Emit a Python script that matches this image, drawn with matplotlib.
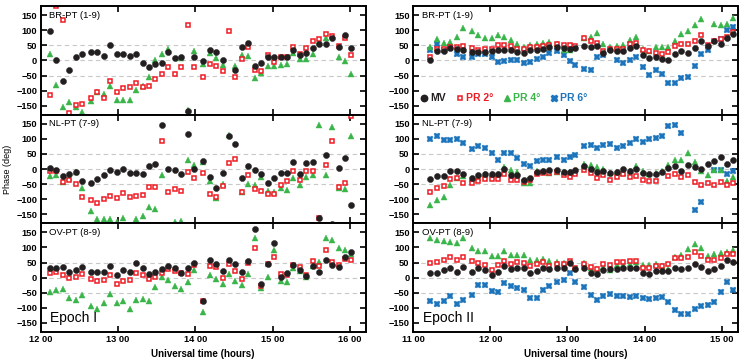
import numpy as np
import matplotlib
matplotlib.use('Agg')
import matplotlib.pyplot as plt
from matplotlib.lines import Line2D

nan = np.nan

# sample times, minutes after 12:00 UT (epoch I) and 11:00 UT (epoch II)
t1_min = [7, 12, 17, 22, 27, 32, 39, 44, 49, 54, 59, 64, 69, 74, 79, 84, 89, 94, 99, 104,
          109, 114, 119, 126, 131, 136, 141, 146, 151, 156, 161, 166, 171, 176, 181, 186,
          191, 196, 201, 206, 211, 216, 221, 226, 231, 236, 241]
t2_min = [13.5, 18.7, 24, 29, 34, 39, 45.5, 50.5, 56, 61, 66, 71, 76, 81, 86, 91, 96, 101,
          106, 111.5, 117, 122, 126, 133, 138, 143, 148, 153, 158.5, 163.5, 168.5, 173.5,
          178.5, 183.5, 188.5, 193.5, 198.5, 203.5, 208.5, 214, 219, 224, 229, 234, 239,
          244, 249]

# ---- epoch I ----
br1_mv = [99, 1, -67, -31, 10, 22, 28, 29, 14, 51, 23, 22, 14, 22, -9, -23, -12, -7, 28, 8,
          11, -167, 11, -3, 35, 28, 3, nan, -30, 46, 57, -18, -7, 13, 13, 10, 10, 35, 17, 26,
          42, 55, 55, 76, 43, 86, 41]
br1_p2 = [-113, 179, 135, -174, -149, -143, -126, -103, -126, -67, -103, -92, -88, -75, -88,
          -84, -60, -46, -23, -44, -21, 118, -21, -56, -13, -18, -35, 99, -56, 4, 43, -33,
          -34, 17, -6, 11, 11, 45, 22, 41, 64, 71, 89, 82, 49, 75, 19]
br1_p4 = [22, -82, -154, -139, -154, -170, -135, -106, -110, -84, -130, -130, -130, -97, -86,
          -55, 0, 21, 37, nan, 7, -163, 30, -11, 26, 8, -15, nan, -19, 19, 15, -58, -42, -19,
          -20, -15, -13, 24, 4, 4, 22, 63, 74, nan, 11, -2, -44]

nl1_mv = [2, -2, -22, -17, -10, -38, -47, -33, -20, -3, -11, 1, -13, -13, -18, 9, 16, 147, 0,
          -2, -16, 115, 1, 28, -26, -62, -13, 110, 82, -30, 9, -3, -17, -46, -28, -12, -12,
          22, -16, 20, 25, -162, 48, -182, 2, 38, -120]
nl1_p2 = [-8, -8, -44, -37, -48, -94, -103, -111, -99, -88, -96, -81, -94, -89, -85, -61, -58,
          93, -76, -67, -74, -11, -29, -12, -82, -94, -55, 20, 33, -76, -21, -66, -72, -83,
          -83, -53, -38, -6, -35, -6, -8, -162, 15, 93, -58, -45, 175]
nl1_p4 = [-22, -21, -42, -28, -9, -62, -138, -166, -166, -166, -174, -162, nan, -166, -155,
          -127, -133, -20, nan, -174, -171, 31, 12, 24, -38, -96, -48, 114, nan, -75, -51,
          -52, -27, -73, -76, -64, -70, -31, -54, -25, -20, 147, -20, 138, -62, -65, 110]

ov1_mv = [33, 33, 35, 18, 25, 35, 20, 20, 20, 37, 8, 26, 18, 48, 33, 13, 19, 30, 40, 31, 17,
          31, 47, -77, 60, 45, 23, 58, 44, 18, 55, 161, -22, 45, 116, 3, 14, 42, 24, 7, 40,
          19, 59, 42, 34, 67, 84]
ov1_p2 = [17, 20, 9, -1, 2, 11, -6, -12, -9, 10, -22, -10, -9, 17, 10, -6, 3, 17, 28, 23, 14,
          13, 42, -77, 38, 35, -1, 44, 23, -5, 48, 99, -27, 45, 68, 11, 8, 42, 35, 9, 54, 38,
          91, 53, 43, 63, 59]
ov1_p4 = [-47, -41, -36, -68, -73, -57, -95, -105, -84, -53, -84, -78, -105, -74, -72, -77,
          -31, 1, -7, -28, -39, -15, 24, -115, 8, -5, -22, 13, -12, -26, 12, 130, -33, 3, 92,
          -10, -16, 32, 22, 2, 40, 53, 132, 125, 97, 91, 80]

# ---- epoch II ----
br2_mv = [1, 32, 30, 40, 37, 36, 28, 28, 28, 30, 33, 35, 34, 29, 26, 35, 36, 37, 46, 46, 41,
          37, 40, 47, 44, 47, 24, 35, 32, 32, 42, 47, 19, 8, 11, 6, 1, 21, 31, 25, 41, 65,
          47, 65, 56, 73, 88]
br2_p2 = [10, 37, 37, 44, 45, 49, 41, 34, 39, 39, 50, 51, 49, 39, 37, 43, 43, 47, 52, 53, 50,
          50, 47, 73, 64, 57, 31, 38, 38, 39, 54, 58, 33, 32, 26, 20, 28, 49, 56, 55, 63, 86,
          50, 65, 71, 78, 95]
br2_p4 = [44, 72, 57, 60, 79, 109, 98, 83, 75, 74, 83, 79, 67, 56, 46, 52, 55, 57, 60, 53, 34,
          33, nan, 73, 79, 90, 53, 46, 49, 52, 68, 78, 39, 32, 43, 43, 43, 65, 89, 96, 116,
          138, nan, 122, 119, 121, 142]
br2_p6 = [35, 54, 33, 41, 23, 10, 12, 23, 23, 10, -6, -2, 3, 0, -9, -6, 4, 11, 26, 30, 17,
          -1, -15, -29, -30, 11, 18, nan, 1, -7, 1, 11, -21, -49, -30, -46, -75, -75, -57,
          -55, -18, 23, 34, nan, 72, 101, 110]

nl2_mv = [-34, -24, -22, -6, -6, -17, -29, -19, -17, -16, -16, 0, -19, -19, -36, -28, -11,
          -6, -4, -3, -9, -11, -4, 11, 0, -11, -6, -13, -10, -1, -6, 1, -13, -18, -16, -10,
          3, 9, -6, 13, 6, 0, 16, 26, 40, 18, 31]
nl2_p2 = [-75, -64, -55, -34, -30, -45, -45, -40, -34, -34, -34, -16, -36, -36, -43, -36,
          -16, -13, -13, -11, -21, -25, -15, -2, -13, -29, -19, -35, -26, -17, -25, -22,
          -36, -39, -38, nan, -24, -17, -27, -20, -42, -52, -47, -53, -43, -54, -45]
nl2_p4 = [-120, -103, -94, -54, -30, -22, -34, -31, -17, -17, -15, 8, -4, -10, -46, -46, -6,
          -6, -13, -11, -10, -11, -8, 18, 13, 7, 1, -13, -9, -13, -6, 9, -7, -17, -12, -7,
          15, 29, 31, 52, 24, -8, -20, -4, -4, -39, -25]
nl2_p6 = [101, 109, 97, 97, 99, 87, 65, 76, 70, 53, 31, 52, 52, 37, 17, 10, 26, 31, 31, 39,
          31, 40, 48, 75, 79, 69, 81, 82, 69, 78, 85, 99, 90, 99, 103, 110, 142, 145, 121,
          nan, -135, -110, nan, -4, -3, -16, -7]

ov2_mv = [14, 14, 25, 32, 20, 34, 20, 31, 26, 9, 18, 37, 28, 31, 31, 17, 21, 33, 28, 33, 33,
          47, 30, 32, 17, 13, 25, 29, 30, 31, 31, 33, 15, 11, 22, 21, 22, 33, 29, 33, 44, 34,
          21, 30, 40, 57, 51]
ov2_p2 = [50, 51, 59, 68, 57, 69, 55, 50, 42, 26, 42, 55, 44, 53, 48, 40, 44, 53, 40, 44, 44,
          55, 33, 46, 35, 28, 45, 41, 51, 51, 56, 56, 33, 33, 37, 40, 44, 64, 64, 68, 84, 73,
          57, 59, 66, 77, 77]
ov2_p4 = [130, 124, 121, 119, 116, 133, 97, 89, 88, 73, 73, 88, 75, 74, 74, 59, 57, 63, 54,
          51, 47, 53, nan, 48, 33, 29, 36, 24, 42, 42, 45, 52, 42, 42, 44, 40, 30, 67, 75, 95,
          113, 98, 73, 79, 81, 86, 92]
ov2_p6 = [-79, -86, -78, -62, -86, -75, -59, -26, -23, -44, -46, -19, -28, -34, -42, -66, -66,
          -40, -29, -13, -7, 17, -13, -32, -58, -73, -62, -54, -62, -62, -64, -62, -66, -70,
          -66, -64, -81, -108, -121, -121, -105, -95, -90, -80, -47, -13, -42]

baselines = ['BR-PT (1-9)', 'NL-PT (7-9)', 'OV-PT (8-9)']
hours1 = [12, 13, 14, 15, 16]
hours2 = [11, 12, 13, 14, 15]

c_mv = '#231f20'
c_p2 = '#ed1c24'
c_p4 = '#39b54a'
c_p6 = '#1c75bc'

plt.rcParams['font.family'] = ['Liberation Sans', 'DejaVu Sans']

t1 = 12 + np.array(t1_min) / 60.0
t2 = 11 + np.array(t2_min) / 60.0


def draw(ax, t, mv, p2, p4, p6=None):
    if p6 is not None:
        ax.plot(t, p6, ls='none', marker='X', ms=4.5, mfc=c_p6, mec=c_p6, mew=0.3)
    ax.plot(t, p4, ls='none', marker='^', ms=4.4, mfc=c_p4, mec=c_p4, mew=0.3)
    ax.plot(t, p2, ls='none', marker='s', ms=3.2, mfc='white', mec=c_p2, mew=1.1)
    ax.plot(t, mv, ls='none', marker='o', ms=4.4, mfc=c_mv, mec=c_mv, mew=0.3)


fig, axes = plt.subplots(3, 2, figsize=(7.47, 3.62), dpi=100)
fig.subplots_adjust(left=0.0545, right=0.988, bottom=0.083, top=0.983,
                    hspace=0, wspace=0.146)

data1 = [(br1_mv, br1_p2, br1_p4), (nl1_mv, nl1_p2, nl1_p4), (ov1_mv, ov1_p2, ov1_p4)]
data2 = [(br2_mv, br2_p2, br2_p4, br2_p6), (nl2_mv, nl2_p2, nl2_p4, nl2_p6),
         (ov2_mv, ov2_p2, ov2_p4, ov2_p6)]

for row in range(3):
    for col in range(2):
        ax = axes[row, col]
        for yv in (-50, 0, 50):
            ax.axhline(yv, color='#c8c8c8', lw=0.8, ls=(0, (4, 3)), zorder=0)
        if col == 0:
            draw(ax, t1, *data1[row])
            ax.set_xlim(12.0, 16.2)
            ax.set_xticks(hours1)
            ax.set_xticklabels(['%d 00' % h for h in hours1])
        else:
            draw(ax, t2, *data2[row])
            ax.set_xlim(11.02, 15.21)
            ax.set_xticks(hours2)
            ax.set_xticklabels(['%d 00' % h for h in hours2])
        ax.set_ylim(-180, 180)
        ax.set_yticks([-150, -100, -50, 0, 50, 100, 150])
        ax.tick_params(direction='in', top=True, right=True, length=4, width=1.2,
                       labelsize=6.7, pad=2.5)
        for lab in ax.get_xticklabels() + ax.get_yticklabels():
            lab.set_fontweight('bold')
        for sp in ax.spines.values():
            sp.set_linewidth(1.4)
        if row < 2:
            ax.tick_params(labelbottom=False)
        ax.text(0.026, 0.915, baselines[row], transform=ax.transAxes,
                fontsize=6.8, va='center', ha='left')

axes[2, 0].text(0.029, 0.125, 'Epoch I', transform=axes[2, 0].transAxes,
                fontsize=10, va='center', ha='left')
axes[2, 1].text(0.03, 0.125, 'Epoch II', transform=axes[2, 1].transAxes,
                fontsize=10, va='center', ha='left')

axes[1, 0].set_ylabel('Phase (deg)', fontsize=6.5, labelpad=3)
for col in range(2):
    axes[2, col].set_xlabel('Universal time (hours)', fontsize=7, fontweight='bold',
                            labelpad=3)

handles = [
    Line2D([], [], ls='none', marker='o', ms=4.6, mfc=c_mv, mec=c_mv),
    Line2D([], [], ls='none', marker='s', ms=3.4, mfc='white', mec=c_p2, mew=1.1),
    Line2D([], [], ls='none', marker='^', ms=4.6, mfc=c_p4, mec=c_p4),
    Line2D([], [], ls='none', marker='X', ms=4.6, mfc=c_p6, mec=c_p6),
]
labels = ['MV', 'PR 2\u00b0', 'PR 4\u00b0', 'PR 6\u00b0']
leg = axes[0, 1].legend(handles, labels, ncol=4, loc='center left',
                        bbox_to_anchor=(0.025, 0.15), frameon=False,
                        handlelength=0.6, handletextpad=0.3, columnspacing=1.0,
                        borderaxespad=0, borderpad=0,
                        prop={'size': 7.5, 'weight': 'bold'})
for txt, c in zip(leg.get_texts(), [c_mv, c_p2, c_p4, c_p6]):
    txt.set_color(c)

fig.savefig('out.png', dpi=100)
